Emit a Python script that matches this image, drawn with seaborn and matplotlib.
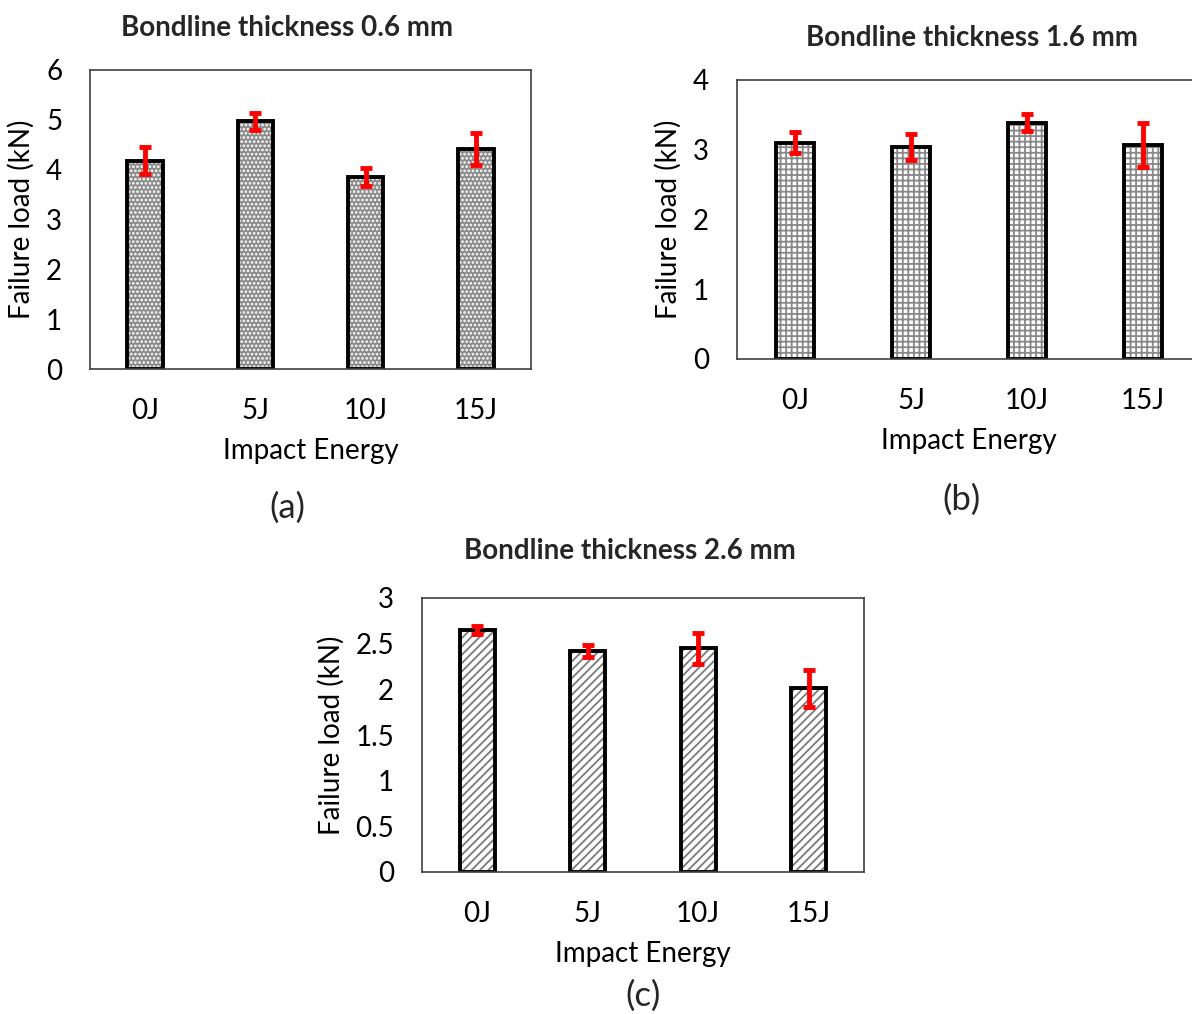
import matplotlib
matplotlib.use("Agg")
import matplotlib.pyplot as plt
import pandas as pd
import seaborn as sns

energies = ["0J", "5J", "10J", "15J"]

load_06 = [4.18, 4.97, 3.86, 4.42]
err_06 = [0.27, 0.17, 0.18, 0.32]
load_16 = [3.10, 3.04, 3.39, 3.07]
err_16 = [0.15, 0.19, 0.12, 0.32]
load_26 = [2.65, 2.42, 2.45, 2.01]
err_26 = [0.04, 0.065, 0.17, 0.20]

titles = ["Bondline thickness 0.6 mm", "Bondline thickness 1.6 mm", "Bondline thickness 2.6 mm"]
letters = ["(a)", "(b)", "(c)"]
y_ticks = [[0, 1, 2, 3, 4, 5, 6], [0, 1, 2, 3, 4], [0, 0.5, 1, 1.5, 2, 2.5, 3]]
y_tick_labels = [["0", "1", "2", "3", "4", "5", "6"],
                 ["0", "1", "2", "3", "4"],
                 ["0", "0.5", "1", "1.5", "2", "2.5", "3"]]

sns.set_theme(style="white")
plt.rcParams['font.family'] = ['Lato', 'DejaVu Sans']
plt.rcParams['hatch.linewidth'] = 1.3

fig = plt.figure(figsize=(11.92, 10.14), dpi=100)

# axes rectangles in figure fractions
rects = [
    [90 / 1192, 1 - 369 / 1014, 441 / 1192, 299 / 1014],
    [737 / 1192, 1 - 359 / 1014, 464 / 1192, 279 / 1014],
    [422 / 1192, 1 - 872 / 1014, 442 / 1192, 274 / 1014],
]
# fill colour, hatch colour, hatch
styles = [
    ("#8a8a8a", "white", "...."),
    ("white", "#888888", "+++"),
    ("white", "#7a7a7a", "////"),
]
title_pos = [(287, 28), (972, 38), (630, 551)]
letter_pos = [(287, 508), (962, 500), (643, 996)]

series = [(load_06, err_06), (load_16, err_16), (load_26, err_26)]

for i, (vals, errs) in enumerate(series):
    ax = fig.add_axes(rects[i])
    df = pd.DataFrame({"Impact Energy": energies, "Failure load (kN)": vals})
    face, hcol, hatch = styles[i]
    sns.barplot(ax=ax, data=df, x="Impact Energy", y="Failure load (kN)",
                color=face, saturation=1, width=0.32, hatch=hatch,
                edgecolor=hcol, linewidth=0)
    sns.barplot(ax=ax, data=df, x="Impact Energy", y="Failure load (kN)",
                fill=False, width=0.32, edgecolor="black", linewidth=2.8)
    ax.errorbar(x=list(range(len(energies))), y=vals, yerr=errs, fmt="none",
                ecolor="red", elinewidth=3.5, capsize=4.3, capthick=3.5, zorder=5)

    ax.set_ylim(y_ticks[i][0], y_ticks[i][-1])
    ax.set_yticks(y_ticks[i])
    ax.set_yticklabels(y_tick_labels[i])
    ax.set_xlim(-0.5, 3.5)
    ax.tick_params(axis="both", length=0, labelsize=20, colors="black")
    ax.tick_params(axis="y", pad=20)
    ax.tick_params(axis="x", pad=21)
    ax.set_xlabel("Impact Energy", fontsize=20, labelpad=10, color="black")
    ax.set_ylabel("Failure load (kN)", fontsize=20, labelpad=8, color="black")
    for s in ax.spines.values():
        s.set_color("#404040")
        s.set_linewidth(1.2)

    fig.text(title_pos[i][0] / 1192, 1 - title_pos[i][1] / 1014, titles[i],
             ha="center", va="center", fontsize=20, fontweight="bold")
    fig.text(letter_pos[i][0] / 1192, 1 - letter_pos[i][1] / 1014, letters[i],
             ha="center", va="center", fontsize=25)

fig.savefig("out.png", dpi=100)
